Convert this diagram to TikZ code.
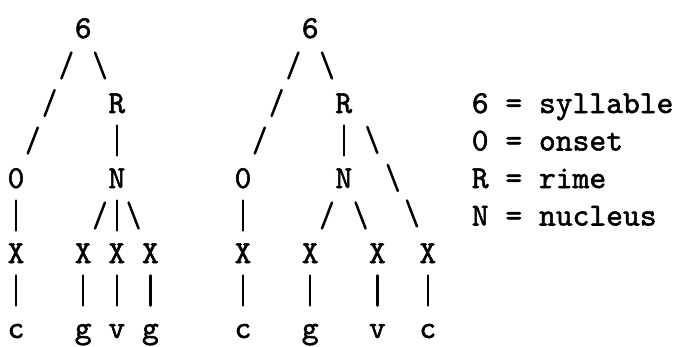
\documentclass[tikz,border=0pt]{standalone}
\usepackage{fontspec}
\newfontfamily\tw[Extension=.otf,FakeBold=1.6]{lmmono10-regular}
\usetikzlibrary{calc}
\tikzset{
  ch/.style={inner sep=0pt, text height=20pt, text depth=0pt, minimum width=16.8pt,
    font=\fontsize{32}{36}\selectfont\tw},
  conn/.style={line width=2.5pt, line cap=round},
}
% connector piece: #1 from node, #2 to node, #3 fraction, #4 half-vector of the stroke
\newcommand\lnk[4]{%
  \draw[conn] ($($(#1)!#3!(#2)$)-(#4)$) -- ($($(#1)!#3!(#2)$)+(#4)$);}
\def\fw{5pt,13pt}
\def\bk{-5pt,13pt}
\def\br{0pt,15pt}
\begin{document}
\begin{tikzpicture}[x=16.8pt, y=-37.5pt]
\useasboundingbox (0pt,0pt) rectangle (678pt,-346pt);
% ---------- left tree ----------
\begin{scope}[shift={(16pt,-28pt)}]
  \node[ch] (aS) at (4,0) {6};
  \node[ch] (aR) at (6,2) {R};
  \node[ch] (aO) at (0,4) {0};
  \node[ch] (aN) at (6,4) {N};
  \node[ch] (aX1) at (0,6) {X};
  \node[ch] (aX2) at (4,6) {X};
  \node[ch] (aX3) at (6,6) {X};
  \node[ch] (aX4) at (8,6) {X};
  \node[ch] (ac1) at (0,8) {c};
  \node[ch] (ac2) at (4,8) {g};
  \node[ch] (ac3) at (6,8) {v};
  \node[ch] (ac4) at (8,8) {g};
  \lnk{aS}{aO}{0.25}{\fw}
  \lnk{aS}{aO}{0.5}{\fw}
  \lnk{aS}{aO}{0.75}{\fw}
  \lnk{aS}{aR}{0.5}{\bk}
  \lnk{aR}{aN}{0.5}{\br}
  \lnk{aO}{aX1}{0.5}{\br}
  \lnk{aN}{aX2}{0.5}{\fw}
  \lnk{aN}{aX3}{0.5}{\br}
  \lnk{aN}{aX4}{0.5}{\bk}
  \lnk{aX1}{ac1}{0.5}{\br}
  \lnk{aX2}{ac2}{0.5}{\br}
  \lnk{aX3}{ac3}{0.5}{\br}
  \lnk{aX4}{ac4}{0.5}{\br}
\end{scope}
% ---------- right tree ----------
\begin{scope}[shift={(243pt,-28pt)}]
  \node[ch] (bS) at (4,0) {6};
  \node[ch] (bR) at (6,2) {R};
  \node[ch] (bO) at (0,4) {0};
  \node[ch] (bN) at (6,4) {N};
  \node[ch] (bX1) at (0,6) {X};
  \node[ch] (bX2) at (4,6) {X};
  \node[ch] (bX3) at (8,6) {X};
  \node[ch] (bX4) at (11,6) {X};
  \node[ch] (bc1) at (0,8) {c};
  \node[ch] (bc2) at (4,8) {g};
  \node[ch] (bc3) at (8,8) {v};
  \node[ch] (bc4) at (11,8) {c};
  \lnk{bS}{bO}{0.25}{\fw}
  \lnk{bS}{bO}{0.5}{\fw}
  \lnk{bS}{bO}{0.75}{\fw}
  \lnk{bS}{bR}{0.5}{\bk}
  \lnk{bR}{bN}{0.5}{\br}
  \lnk{bR.east}{bX4.north}{0.264}{\bk}
  \lnk{bR.east}{bX4.north}{0.536}{\bk}
  \lnk{bR.east}{bX4.north}{0.79}{\bk}
  \lnk{bO}{bX1}{0.5}{\br}
  \lnk{bN}{bX2}{0.5}{\fw}
  \lnk{bN}{bX3}{0.5}{\bk}
  \lnk{bX1}{bc1}{0.5}{\br}
  \lnk{bX2}{bc2}{0.5}{\br}
  \lnk{bX3}{bc3}{0.5}{\br}
  \lnk{bX4}{bc4}{0.5}{\br}
\end{scope}
% ---------- legend ----------
\begin{scope}[shift={(480pt,-28pt)}]
  \node[ch, anchor=west] (l1) at (-0.5,2) {6 = syllable};
  \node[ch, anchor=west] (l2) at (-0.5,3) {0 = onset};
  \node[ch, anchor=west] (l3) at (-0.5,4) {R = rime};
  \node[ch, anchor=west] (l4) at (-0.5,5) {N = nucleus};
\end{scope}
\end{tikzpicture}
\end{document}
